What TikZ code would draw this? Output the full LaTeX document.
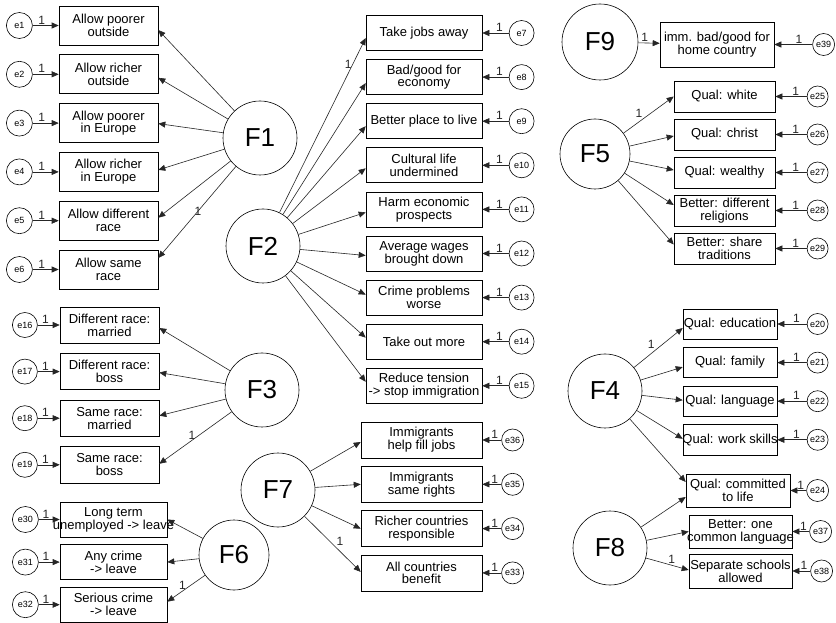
\documentclass[tikz,border=0pt]{standalone}
\usepackage{fontspec}
\setmainfont{Liberation Sans}
\usetikzlibrary{positioning, arrows.meta, calc}

% a line that may stick out of its box on both sides
\newcommand{\wideline}[1]{\makebox[0pt]{#1}}

\begin{document}
\begin{tikzpicture}[
  x=1pt, y=-1pt,
  font=\fontsize{13}{12.8}\selectfont,
  >={Triangle[length=7pt, width=6pt]},
  obsbox/.style={draw, line width=0.6pt, align=center, inner sep=1pt},
  factor/.style={draw, circle, line width=0.6pt, minimum size=#1, inner sep=0pt, font=\fontsize{26}{26}\selectfont},
  factor/.default=74pt,
  err/.style={draw, circle, line width=0.6pt, minimum size=#1, inner sep=0pt, font=\fontsize{9}{9}\selectfont},
  err/.default=25pt,
  arr/.style={->, line width=0.6pt, black!85},
  one/.style={font=\fontsize{12}{12}\selectfont, inner sep=1pt}
]
\fill[white] (0,0) rectangle (836,621);

% F1
\node[factor] (F1) at (260,138) {F1};
\node[obsbox, minimum width=99pt, minimum height=39pt] (v1) at (108.5,25.5) {Allow poorer\\outside};
\node[obsbox, minimum width=99pt, minimum height=39pt, below=9.2pt of v1] (v2) {Allow richer\\outside};
\node[obsbox, minimum width=99pt, minimum height=39pt, below=9.2pt of v2] (v3) {Allow poorer\\in Europe};
\node[obsbox, minimum width=99pt, minimum height=39pt, below=9.2pt of v3] (v4) {Allow richer\\in Europe};
\node[obsbox, minimum width=99pt, minimum height=39pt, below=9.2pt of v4] (v5) {Allow different\\race};
\node[obsbox, minimum width=99pt, minimum height=39pt, below=9.2pt of v5] (v6) {Allow same\\race};
\foreach \i in {1,...,6} \node[err=26pt, left=26pt of v\i] (e\i) {e\i};
\draw[arr] (F1) -- ($(v1.east)+(0,4.5)$);
\draw[arr] (F1) -- ($(v2.east)+(0,3.5)$);
\draw[arr] (F1) -- ($(v3.east)+(0,0.5)$);
\draw[arr] (F1) -- ($(v4.east)+(0,-2)$);
\draw[arr] (F1) -- ($(v5.east)+(0,-3)$);
\draw[arr] (F1) -- ($(v6.east)+(0,-11.5)$) node[one, pos=0.55, above right] {1};

% F2
\node[factor] (F2) at (263,246) {F2};
\node[obsbox, minimum width=116pt, minimum height=35pt] (v7) at (424,33) {Take jobs away};
\node[obsbox, minimum width=116pt, minimum height=35pt, below=8.5pt of v7] (v8) {Bad/good for\\economy};
\node[obsbox, minimum width=116pt, minimum height=35pt, below=8.5pt of v8] (v9) {Better place to live};
\node[obsbox, minimum width=116pt, minimum height=35pt, below=8.5pt of v9] (v10) {Cultural life\\undermined};
\node[obsbox, minimum width=116pt, minimum height=35pt, below=8.5pt of v10] (v11) {Harm economic\\prospects};
\node[obsbox, minimum width=116pt, minimum height=35pt, below=8.5pt of v11] (v12) {Average wages\\brought down};
\node[obsbox, minimum width=116pt, minimum height=35pt, below=8.5pt of v12] (v13) {Crime problems\\worse};
\node[obsbox, minimum width=116pt, minimum height=35pt, below=8.5pt of v13] (v14) {Take out more};
\node[obsbox, minimum width=116pt, minimum height=35pt, below=8.5pt of v14] (v15) {Reduce tension\\\wideline{-> stop immigration}};
\foreach \i in {7,...,15} \node[err, right=26.5pt of v\i] (e\i) {e\i};
\draw[arr] (F2) -- ($(v7.west)+(0,5)$) node[one, pos=0.85, left] {1};
\draw[arr] (F2) -- ($(v8.west)+(0,6)$);
\draw[arr] (F2) -- ($(v9.west)+(0,5)$);
\draw[arr] (F2) -- ($(v10.west)+(0,3)$);
\draw[arr] (F2) -- ($(v11.west)+(0,3)$);
\draw[arr] (F2) -- ($(v12.west)+(0,2)$);
\draw[arr] (F2) -- ($(v13.west)+(0,-3)$);
\draw[arr] (F2) -- ($(v14.west)+(0,-4)$);
\draw[arr] (F2) -- ($(v15.west)+(0,-4)$);

% F3
\node[factor] (F3) at (262,390) {F3};
\node[obsbox, minimum width=99pt, minimum height=36pt] (v16) at (109.5,325) {Different race:\\married};
\node[obsbox, minimum width=99pt, minimum height=36pt, below=10pt of v16] (v17) {Different race:\\boss};
\node[obsbox, minimum width=99pt, minimum height=36pt, below=10pt of v17] (v18) {Same race:\\married};
\node[obsbox, minimum width=99pt, minimum height=36pt, below=10pt of v18] (v19) {Same race:\\boss};
\foreach \i in {16,...,19} \node[err, left=22pt of v\i] (e\i) {e\i};
\draw[arr] (F3) -- ($(v16.east)+(0,3)$);
\draw[arr] (F3) -- ($(v17.east)+(0,1)$);
\draw[arr] (F3) -- ($(v18.east)+(0,-2.5)$);
\draw[arr] (F3) -- ($(v19.east)+(0,-1)$) node[one, pos=0.55, above] {1};

% F6
\node[factor=70pt] (F6) at (234,555) {F6};
\node[obsbox, minimum width=107pt, minimum height=35pt] (v30) at (113.5,519.5) {Long term\\\wideline{unemployed -> leave}};
\node[obsbox, minimum width=107pt, minimum height=35pt, below=7pt of v30] (v31) {Any crime\\-> leave};
\node[obsbox, minimum width=107pt, minimum height=35pt, below=7pt of v31] (v32) {Serious crime\\-> leave};
\foreach \i in {30,...,32} \node[err=26pt, left=21pt of v\i] (e\i) {e\i};
\draw[arr] (F6) -- (v30.east);
\draw[arr] (F6) -- (v31.east);
\draw[arr] (F6) -- ($(v32.east)+(0,-3)$) node[one, pos=0.6, above] {1};

% F7
\node[factor] (F7) at (278,490) {F7};
\node[obsbox, minimum width=121pt, minimum height=36pt] (v36) at (421.5,440) {Immigrants\\help fill jobs};
\node[obsbox, minimum width=121pt, minimum height=36pt, below=7.7pt of v36] (v35) {Immigrants\\same rights};
\node[obsbox, minimum width=121pt, minimum height=36pt, below=7.7pt of v35] (v34) {Richer countries\\responsible};
\node[obsbox, minimum width=121pt, minimum height=36pt, below=7.7pt of v34] (v33) {All countries\\benefit};
\foreach \i in {33,...,36} \node[err=22pt, right=19pt of v\i] (e\i) {e\i};
\draw[arr] (F7) -- ($(v36.west)+(0,2)$);
\draw[arr] (F7) -- (v35.west);
\draw[arr] (F7) -- (v34.west);
\draw[arr] (F7) -- ($(v33.west)+(0,-1)$) node[one, pos=0.55, above right] {1};

% F9
\node[factor=76pt] (F9) at (600,42) {F9};
\node[obsbox, minimum width=114pt, minimum height=45pt] (v39) at (717,44.5) {imm. bad/good for\\home country};
\node[err=22pt, right=38pt of v39] (e39) {e39};
\draw[arr] (F9) -- (v39) node[one, pos=0.3, above] {1};

% F5
\node[factor=70pt] (F5) at (595,154) {F5};
\node[obsbox, minimum width=101pt, minimum height=31pt] (v25) at (724.5,96.5) {Qual: white};
\node[obsbox, minimum width=101pt, minimum height=31pt, below=6.4pt of v25] (v26) {Qual: christ};
\node[obsbox, minimum width=101pt, minimum height=31pt, below=6.4pt of v26] (v27) {Qual: wealthy};
\node[obsbox, minimum width=101pt, minimum height=31pt, below=6.4pt of v27] (v28) {Better: different\\religions};
\node[obsbox, minimum width=101pt, minimum height=31pt, below=6.4pt of v28] (v29) {Better: share\\traditions};
\foreach \i in {25,...,29} \node[err=21pt, right=31.5pt of v\i] (e\i) {e\i};
\draw[arr] (F5) -- (v25.west) node[one, pos=0.4, above left] {1};
\draw[arr] (F5) -- ($(v26.west)+(0,1.5)$);
\draw[arr] (F5) -- ($(v27.west)+(0,-2.5)$);
\draw[arr] (F5) -- ($(v28.west)+(0,-5.5)$);
\draw[arr] (F5) -- ($(v29.west)+(0,-4)$);

% F4 and F8
\node[factor] (F4) at (605,391) {F4};
\node[factor] (F8) at (610,548) {F8};
\node[obsbox, minimum width=94pt, minimum height=30pt] (v20) at (730,324) {\wideline{Qual: education}};
\node[obsbox, minimum width=94pt, minimum height=30pt, below=8pt of v20] (v21) {Qual: family};
\node[obsbox, minimum width=94pt, minimum height=30pt, below=8pt of v21] (v22) {\wideline{Qual: language}};
\node[obsbox, minimum width=94pt, minimum height=30pt, below=8pt of v22] (v23) {\wideline{Qual: work skills}};
\node[obsbox, minimum width=104pt, minimum height=33pt] (v24) at (738,490.5) {Qual: committed\\to life};
\node[obsbox, minimum width=103pt, minimum height=33pt] (v37) at (740.5,531.5) {Better: one\\\wideline{common language}};
\node[obsbox, minimum width=103pt, minimum height=34pt] (v38) at (740.5,571) {\wideline{Separate schools}\\allowed};
\foreach \i in {20,...,23} \node[err=21pt, right=29.5pt of v\i] (e\i) {e\i};
\node[err=22pt, right=16pt of v24] (e24) {e24};
\node[err=22pt, right=17pt of v37] (e37) {e37};
\node[err=22pt, right=18pt of v38] (e38) {e38};
\draw[arr] (F4) -- ($(v20.west)+(0,4)$) node[one, pos=0.45, above left] {1};
\draw[arr] (F4) -- ($(v21.west)+(0,4.5)$);
\draw[arr] (F4) -- ($(v22.west)+(0,-1)$);
\draw[arr] (F4) -- ($(v23.west)+(0,-1)$);
\draw[arr] (F4) -- ($(v24.west)+(0,-8.5)$);
\draw[arr] (F8) -- ($(v24.west)+(0,6.5)$);
\draw[arr] (F8) -- (v37.west);
\draw[arr] (F8) -- ($(v38.west)+(0,-1)$) node[one, pos=0.6, above] {1};

% error terms
\foreach \i in {1,...,39} \draw[arr] (e\i) -- (v\i) node[one, pos=0.35, above] {1};
\end{tikzpicture}
\end{document}
